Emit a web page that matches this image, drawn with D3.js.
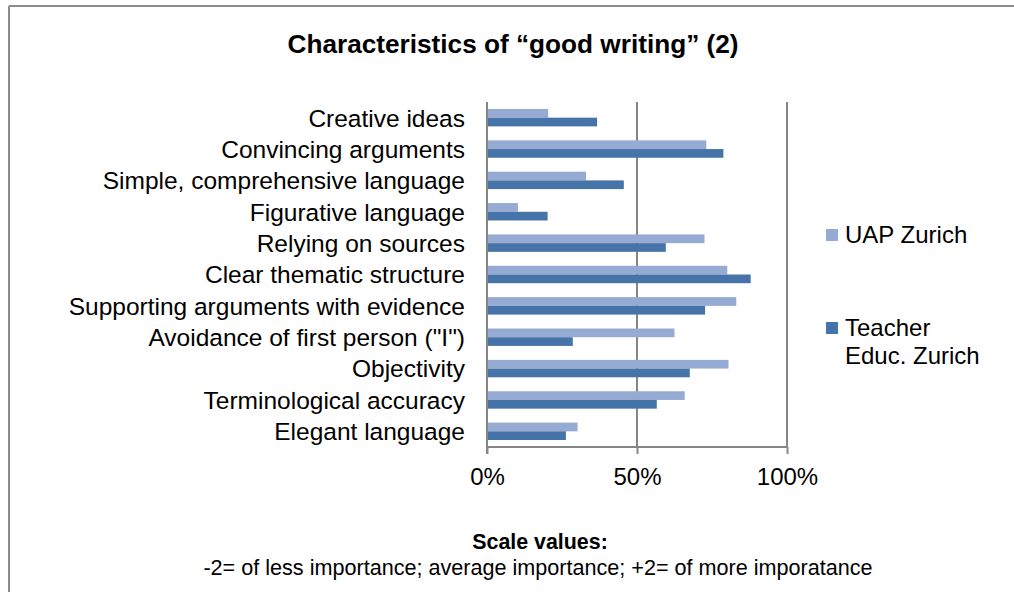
<!DOCTYPE html>
<html>
<head>
<meta charset="utf-8">
<script src="https://cdn.jsdelivr.net/npm/d3@7"></script>
<style>
  html, body { margin: 0; padding: 0; background: #fff; }
  svg { display: block; font-family: "Liberation Sans", Arial, Helvetica, sans-serif; }
</style>
</head>
<body>
<svg id="chart" width="1014" height="592"></svg>
<script>
// Survey characteristics, listed top to bottom
const categories = [
  "Creative ideas",
  "Convincing arguments",
  "Simple, comprehensive language",
  "Figurative language",
  "Relying on sources",
  "Clear thematic structure",
  "Supporting arguments with evidence",
  "Avoidance of first person (\"I\")",
  "Objectivity",
  "Terminological accuracy",
  "Elegant language"
];

// Share of respondents (%) per group
const uapZurich      = [20.4, 73.1, 33.0, 10.3, 72.5, 80.1, 83.1, 62.5, 80.5, 65.9, 30.2];
const teacherZurich  = [36.7, 78.8, 45.6, 20.2, 59.6, 87.9, 72.7, 28.6, 67.6, 56.6, 26.3];

const seriesNames = ["UAP Zurich", "Teacher Educ. Zurich"];
const seriesColors = ["#95abd3", "#4674a8"];
const xTicks = [0, 50, 100];

const svg = d3.select("#chart");

// Outer frame (top and left edges visible)
svg.append("line").attr("x1", 9).attr("x2", 1014).attr("y1", 6).attr("y2", 6)
  .attr("stroke", "#8c8c8c").attr("stroke-width", 2);
svg.append("line").attr("x1", 9).attr("x2", 9).attr("y1", 6).attr("y2", 592)
  .attr("stroke", "#8c8c8c").attr("stroke-width", 2);

// Title
svg.append("text")
  .attr("x", 513).attr("y", 53)
  .attr("text-anchor", "middle")
  .attr("font-size", 26.2).attr("font-weight", "bold")
  .attr("fill", "#000")
  .text("Characteristics of \u201cgood writing\u201d (2)");

const plot = { left: 487, right: 787, top: 102, bottom: 447 };

const x = d3.scaleLinear().domain([0, 100]).range([plot.left, plot.right]);
const y = d3.scaleBand().domain(categories).range([plot.top, plot.bottom]).paddingInner(0.445).paddingOuter(0.2225);
const ySub = d3.scaleBand().domain([0, 1]).range([0, y.bandwidth()]);

const g = svg.append("g");

// Vertical gridlines
g.selectAll(".grid").data(xTicks.slice(1)).join("line")
  .attr("class", "grid")
  .attr("x1", d => x(d)).attr("x2", d => x(d))
  .attr("y1", plot.top).attr("y2", plot.bottom)
  .attr("stroke", "#868686").attr("stroke-width", 2);

// Bars
const series = [uapZurich, teacherZurich];
series.forEach((vals, si) => {
  g.selectAll(".bar" + si).data(categories).join("rect")
    .attr("class", "bar" + si)
    .attr("x", x(0))
    .attr("y", c => y(c) + ySub(si))
    .attr("width", (c, i) => x(vals[i]) - x(0))
    .attr("height", ySub.bandwidth())
    .attr("fill", seriesColors[si]);
});

// Category axis (left)
const yAxis = d3.axisLeft(y).tickSize(0).tickPadding(22);
const ya = svg.append("g").attr("transform", `translate(${plot.left},1)`).call(yAxis);
ya.select(".domain").attr("stroke", "#868686").attr("stroke-width", 2)
  .attr("d", `M0,${plot.top - 1}V${plot.bottom + 6}`);
ya.selectAll("text").attr("font-size", 24.5).attr("fill", "#000")
  .attr("font-family", "'Liberation Sans', Arial, sans-serif");

// Value axis (bottom)
const xAxis = d3.axisBottom(x).tickValues(xTicks).tickFormat(d => d + "%").tickSize(7).tickPadding(14);
const xa = svg.append("g").attr("transform", `translate(0,${plot.bottom})`).call(xAxis);
xa.select(".domain").attr("stroke", "#868686").attr("stroke-width", 2)
  .attr("d", `M${plot.left},0H${plot.right}`);
xa.selectAll(".tick line").attr("stroke", "#868686").attr("stroke-width", 2);
xa.selectAll("text").attr("font-size", 24).attr("fill", "#000")
  .attr("font-family", "'Liberation Sans', Arial, sans-serif");

// Legend
const legend = svg.append("g");
const legendItems = [
  { lines: ["UAP Zurich"], y: 235 },
  { lines: ["Teacher", "Educ. Zurich"], y: 328 }
];
legendItems.forEach((item, i) => {
  legend.append("rect")
    .attr("x", 826).attr("y", item.y - 6)
    .attr("width", 12).attr("height", 12)
    .attr("fill", seriesColors[i]);
  const t = legend.append("text")
    .attr("x", 845).attr("y", item.y + 8)
    .attr("font-size", 24).attr("fill", "#000");
  item.lines.forEach((ln, k) => {
    t.append("tspan").attr("x", 845).attr("dy", k === 0 ? 0 : 28).text(ln);
  });
});

// Footnote
svg.append("text")
  .attr("x", 540).attr("y", 549)
  .attr("text-anchor", "middle")
  .attr("font-size", 21.4).attr("font-weight", "bold").attr("fill", "#000")
  .text("Scale values:");
svg.append("text")
  .attr("x", 538).attr("y", 575)
  .attr("text-anchor", "middle")
  .attr("font-size", 21.6).attr("fill", "#000")
  .text("-2= of less importance; average importance; +2= of more imporatance");
</script>
</body>
</html>
